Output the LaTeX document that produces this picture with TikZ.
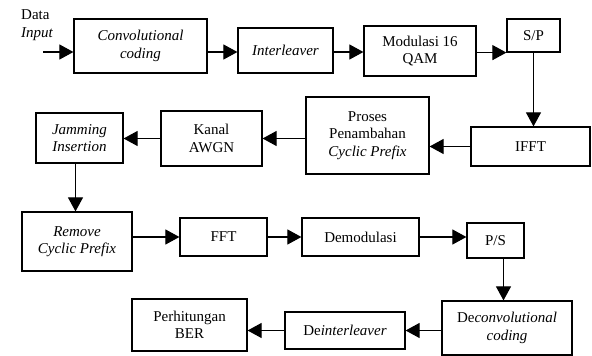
\documentclass[tikz,border=0pt]{standalone}
\usepackage{fontspec}
\setmainfont{Liberation Serif}
\usetikzlibrary{arrows.meta}

\begin{document}
\begin{tikzpicture}[x=1pt,y=-1pt,
  blok/.style={draw, line width=1.2pt, align=center, inner sep=0pt, font=\fontsize{15}{17.5}\selectfont},
  panah/.style={-{Triangle[length=14pt,width=15pt]}, line width=1.1pt}]
\useasboundingbox (0,0) rectangle (592,356);

% transmitter (top row)
\node[blok, minimum width=133pt, minimum height=54pt] (conv) at (140.5,46) {\textit{Convolutional}\\\textit{coding}};
\node[blok, minimum width=95pt, minimum height=45pt] (inter) at (285.5,50.5) {\textit{Interleaver}};
\node[blok, minimum width=112pt, minimum height=50pt] (mod) at (420,51) {Modulasi 16\\QAM};
\node[blok, minimum width=53pt, minimum height=33pt] (sp) at (533.5,35.5) {S/P};

% second row (right to left)
\node[blok, minimum width=119pt, minimum height=39pt] (ifft) at (530.5,146.5) {IFFT};
\node[blok, minimum width=123pt, minimum height=77pt] (proses) at (367.5,135.5) {Proses\\Penambahan\\\textit{Cyclic Prefix}};
\node[blok, minimum width=101pt, minimum height=55pt] (kanal) at (211.5,138.5) {Kanal\\AWGN};
\node[blok, minimum width=87pt, minimum height=50pt] (jam) at (79.5,138) {\textit{Jamming}\\\textit{Insertion}};

% receiver
\node[blok, minimum width=110pt, minimum height=59pt] (remove) at (77,241.5) {\textit{Remove}\\\textit{Cyclic Prefix}};
\node[blok, minimum width=87pt, minimum height=38pt] (fft) at (223.5,237) {FFT};
\node[blok, minimum width=117pt, minimum height=38pt] (demod) at (360.5,237) {Demodulasi};
\node[blok, minimum width=57pt, minimum height=35pt] (ps) at (495.5,240.5) {P/S};

% bottom row (right to left)
\node[blok, minimum width=130pt, minimum height=54pt] (deconv) at (507,328) {De\textit{convolutional}\\\textit{coding}};
\node[blok, minimum width=120pt, minimum height=37pt] (deint) at (345,330.5) {De\textit{interleaver}};
\node[blok, minimum width=115pt, minimum height=52pt] (ber) at (189.5,325) {Perhitungan\\BER};

% input label
\node[anchor=west, align=left, inner sep=0pt, font=\fontsize{15}{18}\selectfont] (datain) at (21,25) {Data\\\textit{Input}};
\coordinate (masuk) at (43,52);

% arrows
\draw[panah] (masuk) -- (masuk -| conv.west);
\draw[panah] (conv.east |- masuk) -- (inter.west |- masuk);
\draw[panah] (inter.east |- masuk) -- (mod.west |- masuk);
\draw[panah] (mod.east |- sp.south) -- (sp.south west);
\draw[panah] (sp.south) -- (sp.south |- ifft.north);
\draw[panah] (ifft.west) -- (ifft.west -| proses.east);
\draw[panah] (proses.west |- kanal.east) -- (kanal.east);
\draw[panah] (kanal.west) -- (kanal.west -| jam.east);
\draw[panah] ([xshift=-4pt]jam.south) -- ([xshift=-4pt]jam.south |- remove.north);
\draw[panah] (remove.east |- fft.west) -- (fft.west);
\draw[panah] (fft.east) -- (demod.west);
\draw[panah] (demod.east) -- (demod.east -| ps.west);
\draw[panah] ([xshift=8pt]ps.south) -- ([xshift=8pt]ps.south |- deconv.north);
\draw[panah] (deconv.west |- deint.east) -- (deint.east);
\draw[panah] (deint.west) -- (deint.west -| ber.east);

\end{tikzpicture}
\end{document}
